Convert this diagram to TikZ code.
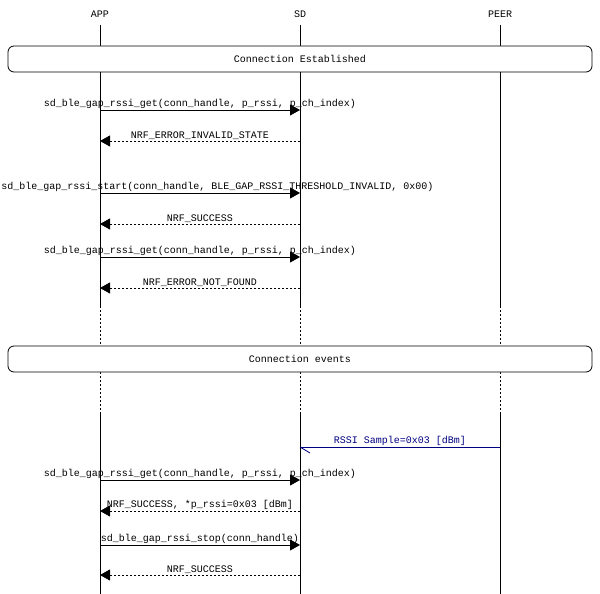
\documentclass[tikz,border=0pt]{standalone}
\usepackage{fontspec}
\setmonofont{Liberation Mono}
\usetikzlibrary{arrows.meta}
\tikzset{
  lbl/.style={font=\ttfamily\fontsize{10}{11}\selectfont, inner sep=1pt},
  call/.style={-{Triangle[length=10pt,width=11pt]}},
  reply/.style={-{Triangle[length=10pt,width=11pt]}, dash pattern=on 2pt off 2pt},
  evbox/.style={draw, rounded corners=6pt, minimum width=584pt, minimum height=26pt, lbl},
}
\begin{document}
\begin{tikzpicture}[x=1pt,y=-1pt,line width=0.8pt]
\useasboundingbox (0,0) rectangle (600,594);
% entities
\foreach \n/\x in {app/100,sd/300,peer/500}{
  \coordinate (\n top) at (\x,25);
  \coordinate (\n a) at (\x,306);
  \coordinate (\n b) at (\x,345);
  \coordinate (\n c) at (\x,372);
  \coordinate (\n d) at (\x,414);
  \coordinate (\n end) at (\x,594);
  \draw (\n top) -- (\n a);
  \draw[dash pattern=on 2pt off 2pt] (\n a) -- (\n b) (\n c) -- (\n d);
  \draw (\n d) -- (\n end);
}
\node[lbl] (APP) at (100,14) {APP};
\node[lbl] (SD) at (300,14) {SD};
\node[lbl] (PEER) at (500,14) {PEER};
% boxes
\node[evbox, fill=white] (est) at (300,59) {Connection Established};
\node[evbox, fill=white] (ev) at (300,359) {Connection events};
% messages
\foreach \y/\s/\t/\sty/\txt in {
  110/app/sd/call/{sd\_ble\_gap\_rssi\_get(conn\_handle, p\_rssi, p\_ch\_index)},
  141/sd/app/reply/{NRF\_ERROR\_INVALID\_STATE},
  224/sd/app/reply/{NRF\_SUCCESS},
  257/app/sd/call/{sd\_ble\_gap\_rssi\_get(conn\_handle, p\_rssi, p\_ch\_index)},
  288/sd/app/reply/{NRF\_ERROR\_NOT\_FOUND},
  480/app/sd/call/{sd\_ble\_gap\_rssi\_get(conn\_handle, p\_rssi, p\_ch\_index)},
  511/sd/app/reply/{NRF\_SUCCESS, *p\_rssi=0x03 [dBm]},
  545/app/sd/call/{sd\_ble\_gap\_rssi\_stop(conn\_handle)},
  575/sd/app/reply/{NRF\_SUCCESS}}{
  \coordinate (from) at (\s top |- 0,\y);
  \coordinate (to) at (\t top |- 0,\y);
  \draw[\sty] (from) -- (to) node[midway, above, lbl] {\txt};
}
% long label kept inside the left edge
\coordinate (sfrom) at (100,193);
\coordinate (sto) at (300,193);
\draw[call] (sfrom) -- (sto);
\node[lbl, anchor=south west] (slbl) at (0,193) {sd\_ble\_gap\_rssi\_start(conn\_handle, BLE\_GAP\_RSSI\_THRESHOLD\_INVALID, 0x00)};
% RSSI sample event
\coordinate (rs) at (500,447);
\coordinate (rt) at (300,447);
\draw[blue!50!black] (rs) -- (rt) node[midway, above, lbl] {RSSI Sample=0x03 [dBm]};
\draw[blue!50!black] (rt) -- ++(10,6);
\end{tikzpicture}
\end{document}
